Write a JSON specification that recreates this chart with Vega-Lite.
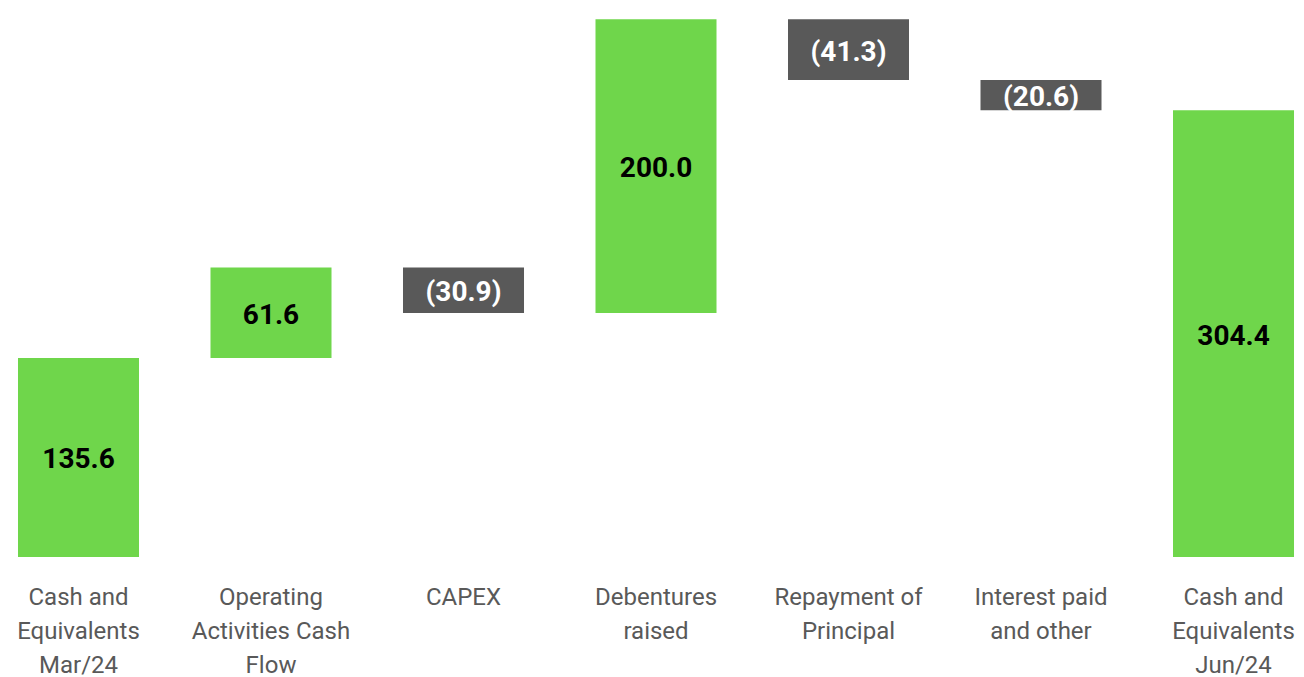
{
  "$schema": "https://vega.github.io/schema/vega-lite/v6.json",
  "width": 1304,
  "height": 557,
  "padding": {"top": 0, "left": 0, "right": 0, "bottom": 120},
  "autosize": {"type": "none"},
  "background": "white",
  "config": {"view": {"stroke": null}},
  "data": {
    "values": [
      {"cat": "Cash and|Equivalents|Mar/24", "start": 0, "end": 135.6, "text": "135.6", "kind": "pos"},
      {"cat": "Operating|Activities Cash|Flow", "start": 135.6, "end": 197.2, "text": "61.6", "kind": "pos"},
      {"cat": "CAPEX", "start": 197.2, "end": 166.3, "text": "(30.9)", "kind": "neg"},
      {"cat": "Debentures|raised", "start": 166.3, "end": 366.3, "text": "200.0", "kind": "pos"},
      {"cat": "Repayment of|Principal", "start": 366.3, "end": 325.0, "text": "(41.3)", "kind": "neg"},
      {"cat": "Interest paid|and other", "start": 325.0, "end": 304.4, "text": "(20.6)", "kind": "neg"},
      {"cat": "Cash and|Equivalents|Jun/24", "start": 0, "end": 304.4, "text": "304.4", "kind": "pos"}
    ]
  },
  "encoding": {
    "x": {
      "field": "cat",
      "type": "nominal",
      "sort": null,
      "scale": {"paddingInner": 0.3714, "paddingOuter": 0.0727, "align": 0.643},
      "axis": {
        "title": null,
        "domain": false,
        "ticks": false,
        "labelAngle": 0,
        "labelExpr": "split(datum.label, '|')",
        "labelFont": "Roboto",
        "labelFontSize": 24,
        "labelColor": "#595959",
        "labelLineHeight": 34,
        "labelBaseline": "top",
        "labelPadding": 28,
        "labelLimit": 300
      }
    }
  },
  "layer": [
    {
      "mark": {"type": "bar"},
      "encoding": {
        "y": {
          "field": "start",
          "type": "quantitative",
          "scale": {"domain": [0, 379.5], "nice": false},
          "axis": null
        },
        "y2": {"field": "end"},
        "color": {
          "field": "kind",
          "type": "nominal",
          "scale": {"domain": ["pos", "neg"], "range": ["#6FD64B", "#595959"]},
          "legend": null
        }
      }
    },
    {
      "transform": [{"calculate": "(datum.start + datum.end) / 2", "as": "mid"}],
      "mark": {"type": "text", "font": "Roboto", "fontSize": 28, "fontWeight": "bold", "baseline": "middle", "align": "center", "dy": 3},
      "encoding": {
        "y": {
          "field": "mid",
          "type": "quantitative",
          "scale": {"domain": [0, 379.5], "nice": false},
          "axis": null
        },
        "text": {"field": "text"},
        "color": {
          "field": "kind",
          "type": "nominal",
          "scale": {"domain": ["pos", "neg"], "range": ["#000000", "#FFFFFF"]},
          "legend": null
        }
      }
    }
  ],
  "resolve": {"scale": {"color": "independent"}}
}
